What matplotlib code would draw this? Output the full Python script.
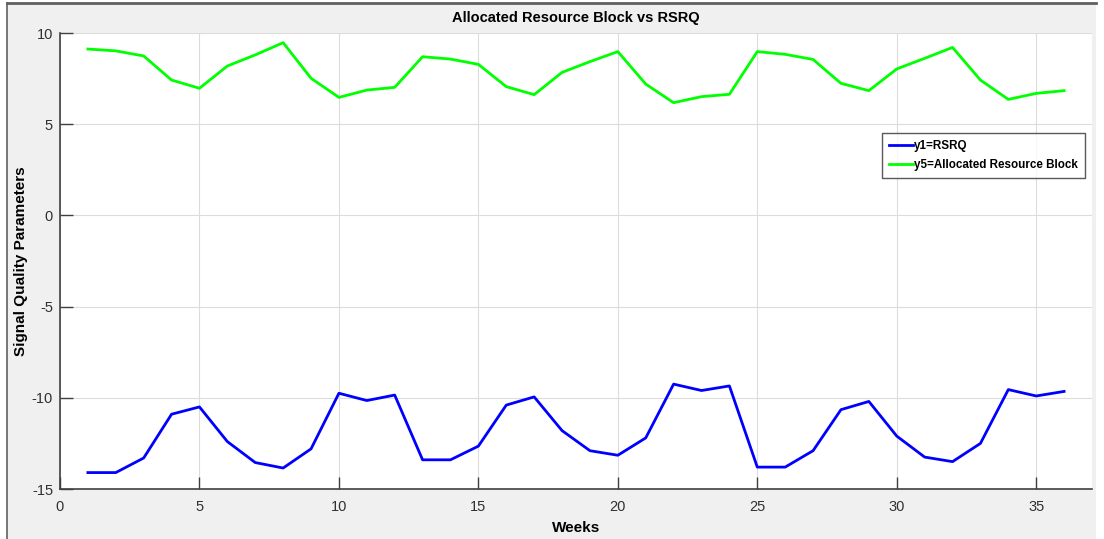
import numpy as np
import matplotlib
matplotlib.use("Agg")
import matplotlib.pyplot as plt
from matplotlib.patches import Rectangle
from matplotlib.lines import Line2D

plt.rcParams['font.family'] = ['Liberation Sans', 'DejaVu Sans']
plt.rcParams['axes.unicode_minus'] = False

# 数据
weeks = list(range(1, 37))
rsrq = [-14.1, -14.1, -13.3, -10.9, -10.5, -12.4, -13.55, -13.85, -12.8, -9.75,
        -10.15, -9.85, -13.4, -13.4, -12.65, -10.4, -9.95, -11.8, -12.9, -13.15,
        -12.2, -9.25, -9.6, -9.35, -13.8, -13.8, -12.9, -10.65, -10.2, -12.1,
        -13.25, -13.5, -12.5, -9.55, -9.9, -9.65]
alloc_rb = [9.12, 9.02, 8.74, 7.42, 6.97, 8.19, 8.8, 9.47, 7.52, 6.47,
            6.87, 7.02, 8.7, 8.57, 8.28, 7.06, 6.62, 7.84, 8.43, 8.98,
            7.2, 6.18, 6.51, 6.64, 8.98, 8.83, 8.55, 7.24, 6.84, 8.03,
            8.61, 9.21, 7.42, 6.36, 6.69, 6.84]
x_ticks = [0, 5, 10, 15, 20, 25, 30, 35]
y_ticks = [-15, -10, -5, 0, 5, 10]

W, H = 1104, 539
fig = plt.figure(figsize=(W / 100, H / 100), dpi=100, facecolor='white')

# MATLAB 风格的灰色窗口背景
fig.patches.append(Rectangle((7 / W, 0), (1096 - 7) / W, (H - 3) / H,
                             transform=fig.transFigure, facecolor='#f0f0f0',
                             edgecolor='none', zorder=-10))
fig.add_artist(Line2D([7 / W, 7 / W], [0, (H - 3) / H], transform=fig.transFigure,
                      color='#606060', lw=1.2))
fig.add_artist(Line2D([7 / W, 1096 / W], [(H - 3) / H, (H - 3) / H],
                      transform=fig.transFigure, color='#606060', lw=2))

ax = fig.add_axes([60 / W, 1 - 489 / H, (1092 - 60) / W, (489 - 33) / H])
ax.set_facecolor('white')

ax.plot(weeks, rsrq, color='#0000ff', lw=2, label='y1=RSRQ')
ax.plot(weeks, alloc_rb, color='#00ff00', lw=2, label='y5=Allocated Resource Block')

ax.set_xlim(0, 37)
ax.set_ylim(-15, 10)
ax.set_xticks(x_ticks)
ax.set_yticks(y_ticks)
ax.grid(True, color='#dcdcdc', lw=0.8)
ax.set_axisbelow(True)

for s in ['top', 'right']:
    ax.spines[s].set_visible(False)
for s in ['left', 'bottom']:
    ax.spines[s].set_color('#404040')
    ax.spines[s].set_linewidth(1.2)
ax.tick_params(direction='in', length=9, width=1, colors='#404040',
               labelsize=10.5, labelcolor='#303030')
ax.tick_params(axis='x', pad=8)
ax.tick_params(axis='y', pad=5)

ax.set_title('Allocated Resource Block vs RSRQ', fontsize=10.5, fontweight='bold', pad=8)
ax.set_xlabel('Weeks', fontsize=11, fontweight='bold')
ax.set_ylabel('Signal Quality Parameters', fontsize=11, fontweight='bold')
ax.xaxis.set_label_coords(0.5, -0.07)
ax.yaxis.set_label_coords(-0.031, 0.5)

leg = ax.legend(loc='upper right', bbox_to_anchor=(0.993, 0.781), fontsize=8.4,
                frameon=True, fancybox=False, edgecolor='#303030',
                handlelength=2.0, handletextpad=0.1, borderpad=0.6,
                labelspacing=0.65, borderaxespad=0)
leg.get_frame().set_linewidth(1)
for t in leg.get_texts():
    t.set_fontweight('bold')

plt.savefig('out.png', dpi=100)
